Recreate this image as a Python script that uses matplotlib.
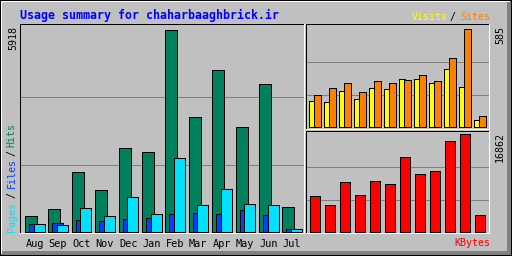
import matplotlib
matplotlib.use("Agg")
import matplotlib.pyplot as plt
import matplotlib.transforms as mtransforms
from matplotlib.patches import Rectangle, Polygon

# monthly data (Aug .. Jul)
months = ["Aug", "Sep", "Oct", "Nov", "Dec", "Jan", "Feb", "Mar", "Apr", "May", "Jun", "Jul"]
hits = [469, 694, 1758, 1231, 2452, 2344, 5918, 3369, 4746, 3076, 4336, 753]
files = [255, 284, 352, 322, 381, 410, 548, 577, 548, 665, 519, 108]
pages = [255, 226, 724, 489, 1046, 548, 2159, 812, 1280, 841, 812, 108]
visits = [157, 149, 217, 169, 233, 227, 287, 287, 264, 348, 239, 44]
sites = [191, 233, 264, 211, 275, 264, 281, 310, 275, 412, 585, 66]
kbytes = [6194, 4645, 8603, 6366, 8775, 8259, 12905, 9980, 10496, 15658, 16862, 2925]

GREY = "#C0C0C0"
DKGREY = "#808080"
HIT_C = "#00805C"
FILE_C = "#0040FF"
PAGE_C = "#00E0FF"
VISIT_C = "#FFFF00"
SITE_C = "#FF8000"
KB_C = "#FF0000"
TITLE_C = "#0000FF"

MONO = "DejaVu Sans Mono"
W, H = 512, 256

fig = plt.figure(figsize=(W / 100, H / 100), dpi=100)
fig.patch.set_facecolor(GREY)

# background axes in pixel coordinates for the frame and labels
bg = fig.add_axes([0, 0, 1, 1])
bg.set_xlim(0, W)
bg.set_ylim(H, 0)
bg.axis("off")


def box(x, y, w, h, color):
    bg.add_patch(Rectangle((x, y), w, h, facecolor=color, edgecolor="none",
                           antialiased=False))


# outer 3D border
box(1, 251, 510, 4, DKGREY)
box(507, 1, 4, 254, DKGREY)
box(1, 1, 509, 1, "white")
box(1, 1, 1, 253, "white")
box(0, 0, W, 1, "black")
box(0, 0, 1, H, "black")
box(W - 1, 0, 1, H, "black")
box(0, H - 1, W, 1, "black")


def panel(x0, y0, x1, y1):
    # inset frame: black top/left, white bottom/right
    box(x0 - 1, y0 - 1, x1 - x0 + 1, 1, "black")
    box(x0 - 1, y0 - 1, 1, y1 - y0 + 1, "black")
    box(x0 - 1, y1, x1 - x0 + 2, 1, "white")
    box(x1, y0 - 1, 1, y1 - y0 + 2, "white")
    ax = fig.add_axes([x0 / W, 1 - y1 / H, (x1 - x0) / W, (y1 - y0) / H])
    ax.set_facecolor("none")
    ax.axis("off")
    return ax, x1 - x0, y1 - y0


def fit_x(ax, w, first_px, step):
    ax.set_xlim(-first_px / step, (w - first_px) / step)


def fit_y(ax, vmax, h, base, top):
    per = vmax / (h - base - top)
    ax.set_ylim(-base * per, vmax + top * per)


def grid(ax, vmax):
    for f in (1 / 3, 2 / 3):
        ax.axhline(vmax * f, color=DKGREY, lw=0.72, zorder=0, antialiased=False)


bar_kw = dict(align="edge", edgecolor="black", linewidth=0.72, antialiased=False)
x = list(range(len(months)))

# main panel: hits / files / pages
ax1, w1, h1 = panel(21, 25, 304, 233)
step1 = 23.4
fit_x(ax1, w1, 4, step1)
fit_y(ax1, max(hits), h1, 0.7, 5)
grid(ax1, max(hits))
ax1.bar(x, hits, width=12 / step1, color=HIT_C, zorder=2, **bar_kw)
ax1.bar([i + 4 / step1 for i in x], files, width=11 / step1, color=FILE_C, zorder=3, **bar_kw)
ax1.bar([i + 8.5 / step1 for i in x], pages, width=11 / step1, color=PAGE_C, zorder=4, **bar_kw)
lab_tr = mtransforms.blended_transform_factory(ax1.transData, bg.transData)
for i, m in enumerate(months):
    ax1.text(i + 9.5 / step1, 247, m, transform=lab_tr, ha="center", va="baseline",
             family=MONO, fontsize=7.4, color="black", clip_on=False)

# top right panel: visits / sites
ax2, w2, h2 = panel(307, 25, 489, 129)
step2 = 15
fit_x(ax2, w2, 2, step2)
fit_y(ax2, max(sites), h2, 1.7, 4.3)
grid(ax2, max(sites))
ax2.bar(x, visits, width=6 / step2, color=VISIT_C, zorder=2, **bar_kw)
ax2.bar([i + 4.5 / step2 for i in x], sites, width=7.5 / step2, color=SITE_C, zorder=3, **bar_kw)

# bottom right panel: kbytes
ax3, w3, h3 = panel(307, 132, 489, 233)
fit_x(ax3, w3, 2, step2)
fit_y(ax3, max(kbytes), h3, 0.7, 2.3)
grid(ax3, max(kbytes))
ax3.bar([i + 1 / step2 for i in x], kbytes, width=10 / step2, color=KB_C, zorder=2, **bar_kw)

# texts
bg.text(20, 19.5, "Usage summary for chaharbaaghbrick.ir", ha="left", va="baseline",
        family=MONO, fontweight="bold", fontsize=8.4, color=TITLE_C)

bg.text(448, 17, "Visits", ha="right", va="center", family=MONO, fontsize=7.2, color=VISIT_C)
bg.text(452, 17, "/", ha="center", va="center", family=MONO, fontsize=7.2, color="black")
bg.text(490, 17, "Sites", ha="right", va="center", family=MONO, fontsize=7.2, color=SITE_C)
bg.text(490, 243, "KBytes", ha="right", va="center", family=MONO, fontsize=7.2, color=KB_C)

bg.text(13, 26, f"{max(hits)}", rotation=90, ha="center", va="top", family=MONO,
        fontsize=7.2, color="black")
bg.text(500.5, 26, f"{max(sites)}", rotation=90, ha="center", va="top", family=MONO,
        fontsize=7.2, color="black")
bg.text(500, 132, f"{max(kbytes)}", rotation=90, ha="center", va="top", family=MONO,
        fontsize=7.2, color="black")

side = [("Pages", PAGE_C, 216.7), ("/", "black", 195), ("Files", FILE_C, 173.5),
        ("/", "black", 153.5), ("Hits", HIT_C, 135)]
for s, c, yc in side:
    bg.text(11.5, yc, s, rotation=90, ha="center", va="center", family=MONO,
            fontsize=7.2, color=c)

fig.savefig("out.png", dpi=100, facecolor=GREY)
